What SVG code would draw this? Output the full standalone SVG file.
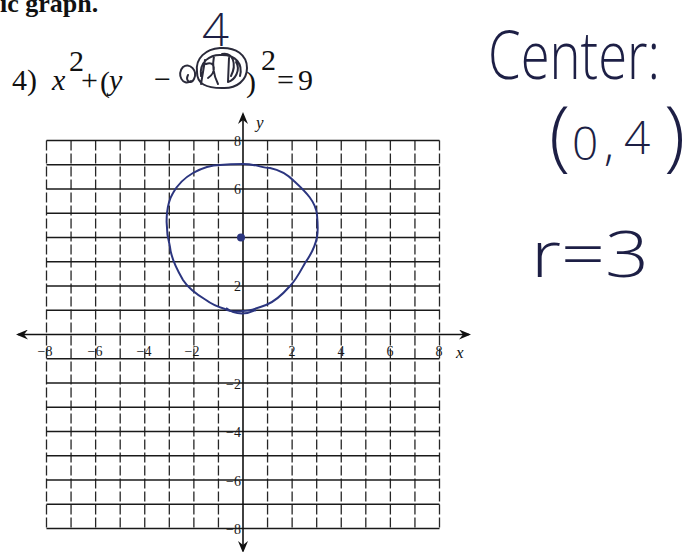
<svg xmlns="http://www.w3.org/2000/svg" width="699" height="552" viewBox="0 0 699 552">
<defs>
<style>
.hl{stroke:#1a1a1a;stroke-width:1.7}
.vl{stroke:#262626;stroke-width:1.3;stroke-dasharray:10 3}
.ax{stroke:#111;stroke-width:1.6;fill:none}
.tk{font-family:"Liberation Serif",serif;font-size:14px;fill:#1a1a1a}
.eq{font-family:"Liberation Serif",serif;font-size:30px;fill:#111}
.hw{font-family:"Open Sans","Liberation Sans",sans-serif;font-weight:300;fill:#1d1f45}
.ink{fill:none;stroke:#2a2a3a;stroke-width:2;stroke-linecap:round;stroke-linejoin:round}
</style>
<marker id="ah" viewBox="0 0 12 10" refX="10" refY="5" markerWidth="12" markerHeight="10" markerUnits="userSpaceOnUse" orient="auto">
<path d="M0,0 L12,5 L0,10 L4,5 z" fill="#111"/>
</marker>
</defs>
<rect width="699" height="552" fill="#fff"/>
<text x="0" y="12" style="font-family:'Liberation Serif',serif;font-size:26px;font-weight:bold;fill:#111">ic graph.</text>
<g id="equation">
<text class="eq" x="12" y="90">4)</text>
<text class="eq" x="52" y="90" font-style="italic">x</text>
<text class="eq" x="69" y="71" font-size="18">2</text>
<text class="eq" x="81" y="90">+</text>
<text class="eq" x="100" y="92" font-size="38">(</text>
<text class="eq" x="109" y="90" font-size="34" font-style="italic">y</text>
<text class="eq" x="154" y="89">−</text>
<text class="eq" x="246" y="92" font-size="38">)</text>
<text class="eq" x="261" y="70" font-size="19">2</text>
<text class="eq" x="277" y="90">=</text>
<text class="eq" x="298" y="90">9</text>
<path class="ink" d="M191,81 C183,87 176,74 183,67 C190,62 198,71 194,79 C191,85 185,81 188,75 M197,72 C195,58 206,49 220,48 C236,47 247,55 247,68 C247,80 237,89 222,88 C206,88 197,84 197,72 Z M201,76 C199,62 210,54 222,55 C236,55 243,64 240,76 M205,60 L201,84 M206,64 C215,60 217,72 208,78 M214,56 C212,66 214,76 218,84 M222,54 C233,52 237,64 231,76 M229,58 L228,82 M236,62 C241,70 235,80 228,82"/>
<text class="hw" x="202" y="46" font-size="46" textLength="27" lengthAdjust="spacingAndGlyphs">4</text>
</g>
<g id="grid">
<line class="vl" x1="46.5" y1="140.5" x2="46.5" y2="528.5"/>
<line class="vl" x1="71.06" y1="140.5" x2="71.06" y2="528.5"/>
<line class="vl" x1="95.63" y1="140.5" x2="95.63" y2="528.5"/>
<line class="vl" x1="120.19" y1="140.5" x2="120.19" y2="528.5"/>
<line class="vl" x1="144.75" y1="140.5" x2="144.75" y2="528.5"/>
<line class="vl" x1="169.31" y1="140.5" x2="169.31" y2="528.5"/>
<line class="vl" x1="193.88" y1="140.5" x2="193.88" y2="528.5"/>
<line class="vl" x1="218.44" y1="140.5" x2="218.44" y2="528.5"/>
<line class="vl" x1="267.56" y1="140.5" x2="267.56" y2="528.5"/>
<line class="vl" x1="292.13" y1="140.5" x2="292.13" y2="528.5"/>
<line class="vl" x1="316.69" y1="140.5" x2="316.69" y2="528.5"/>
<line class="vl" x1="341.25" y1="140.5" x2="341.25" y2="528.5"/>
<line class="vl" x1="365.81" y1="140.5" x2="365.81" y2="528.5"/>
<line class="vl" x1="390.38" y1="140.5" x2="390.38" y2="528.5"/>
<line class="vl" x1="414.94" y1="140.5" x2="414.94" y2="528.5"/>
<line class="vl" x1="439.5" y1="140.5" x2="439.5" y2="528.5"/>
<line class="hl" x1="46.5" y1="140.5" x2="439.5" y2="140.5"/>
<line class="hl" x1="46.5" y1="164.75" x2="439.5" y2="164.75"/>
<line class="hl" x1="46.5" y1="189" x2="439.5" y2="189"/>
<line class="hl" x1="46.5" y1="213.25" x2="439.5" y2="213.25"/>
<line class="hl" x1="46.5" y1="237.5" x2="439.5" y2="237.5"/>
<line class="hl" x1="46.5" y1="261.75" x2="439.5" y2="261.75"/>
<line class="hl" x1="46.5" y1="286" x2="439.5" y2="286"/>
<line class="hl" x1="46.5" y1="310.25" x2="439.5" y2="310.25"/>
<line class="hl" x1="46.5" y1="358.75" x2="439.5" y2="358.75"/>
<line class="hl" x1="46.5" y1="383" x2="439.5" y2="383"/>
<line class="hl" x1="46.5" y1="407.25" x2="439.5" y2="407.25"/>
<line class="hl" x1="46.5" y1="431.5" x2="439.5" y2="431.5"/>
<line class="hl" x1="46.5" y1="455.75" x2="439.5" y2="455.75"/>
<line class="hl" x1="46.5" y1="480" x2="439.5" y2="480"/>
<line class="hl" x1="46.5" y1="504.25" x2="439.5" y2="504.25"/>
<line class="hl" x1="46.5" y1="528.5" x2="439.5" y2="528.5"/>
</g>
<g id="axes">
<line class="ax" x1="243" y1="334.5" x2="18" y2="334.5" marker-end="url(#ah)"/>
<line class="ax" x1="243" y1="334.5" x2="469" y2="334.5" marker-end="url(#ah)"/>
<line class="ax" x1="243" y1="334.5" x2="243" y2="114" marker-end="url(#ah)"/>
<line class="ax" x1="243" y1="334.5" x2="243" y2="551" marker-end="url(#ah)"/>
<text x="256" y="128" style="font-family:'Liberation Serif',serif;font-size:17px;font-style:italic;fill:#111">y</text>
<text x="456" y="358" style="font-family:'Liberation Serif',serif;font-size:17px;font-style:italic;fill:#111">x</text>
</g>
<g id="xlabels" class="tk" text-anchor="middle">
<text x="45" y="356">−8</text>
<text x="95" y="356">−6</text>
<text x="144" y="356">−4</text>
<text x="192" y="356">−2</text>
<text x="292" y="356">2</text>
<text x="341" y="356">4</text>
<text x="390" y="356">6</text>
<text x="439" y="356">8</text>
</g>
<g id="ylabels" class="tk" text-anchor="end">
<text x="241" y="146">8</text>
<text x="241" y="194">6</text>
<text x="241" y="291">2</text>
<text x="241" y="389">−2</text>
<text x="241" y="437">−4</text>
<text x="241" y="486">−6</text>
<text x="241" y="534">−8</text>
</g>
<g id="circle">
<path d="M243,164 C256,164 262,168 270,168 C280,170 288,175 294,181 C306,192 316,202 317,215 C318,226 318,232 317,237 C315,248 310,256 305,263 C300,272 296,280 290,286 C282,295 274,302 266,305 C258,308 250,311 243,311 C236,312 230,312 225,309 C215,306 210,303 206,300 C196,294 188,288 183,280 C176,268 171,258 170,247 C167,236 166,224 167,213 C168,204 170,198 173,193 C178,184 186,177 193,173 C202,168 212,165 220,165 C230,164 236,164 243,164 Z" fill="none" stroke="#2b357f" stroke-width="2"/>
<path d="M226,308 C236,316 248,314 256,310" fill="none" stroke="#2b357f" stroke-width="2"/>
<circle cx="241" cy="237.5" r="4" fill="#2b357f"/>
</g>
<g id="notes">
<text class="hw" x="488" y="79" font-size="66" textLength="172" lengthAdjust="spacingAndGlyphs">Center:</text>
<text class="hw" y="160" font-size="46"><tspan x="549" font-size="78" dy="2">(</tspan><tspan x="572" dy="-2">0</tspan><tspan x="604">,</tspan><tspan x="624" dy="-6">4</tspan><tspan x="664" font-size="78" dy="8">)</tspan></text>
<text class="hw" x="531" y="277" font-size="64" textLength="118" lengthAdjust="spacingAndGlyphs">r=3</text>
</g>
</svg>
